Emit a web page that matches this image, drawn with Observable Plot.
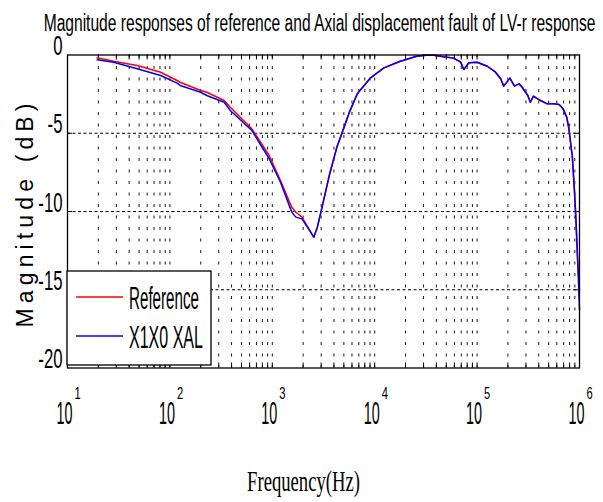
<!DOCTYPE html>
<html>
<head>
<meta charset="utf-8">
<script src="https://cdn.jsdelivr.net/npm/d3@7"></script>
<script src="https://cdn.jsdelivr.net/npm/@observablehq/plot@0.6"></script>
<style>
  html, body { margin: 0; padding: 0; background: #fff; }
  #chart { width: 603px; height: 502px; }
</style>
</head>
<body>
<div id="chart"></div>
<script>
// ---- Data ----
const freqHz = [19.5, 28.2, 47.9, 81.3, 117.5, 125.9, 199.5, 229.1, 338.8, 389.0,
  631, 933, 1202, 1549, 1698, 1950, 2541, 2754, 3020, 3631,
  4266, 4786, 5623, 6761, 9120, 12303, 17783, 25704, 31623, 38019,
  43652, 58884, 69183, 74131, 83176, 100000, 125893, 151356, 169824, 181970,
  208930, 231739, 257040, 275423, 312608, 331131, 354813, 416869, 484172, 562341,
  630957, 691831, 749894, 785236, 851138, 891251, 922571, 966051, 1000000];

const referenceDb = [-0.18, -0.40, -0.67, -1.10, -1.63, -1.74, -2.27, -2.38, -2.91, -3.34,
  -4.72, -6.42, -8.02, -9.73, -10.05, -10.36, -11.64, -11.0, -9.9, -7.6,
  -5.9, -5.0, -3.7, -2.48, -1.46, -0.82, -0.40, -0.08, -0.02, -0.02,
  -0.08, -0.20, -0.46, -0.93, -0.50, -0.46, -0.72, -1.10, -1.52, -1.99,
  -1.48, -1.99, -1.84, -2.06, -2.59, -3.02, -2.63, -2.91, -3.12, -3.12,
  -3.16, -3.44, -3.97, -4.65, -6.5, -8.6, -10.5, -13.6, -15.05];

const faultDb = [-0.31, -0.46, -0.88, -1.31, -1.80, -1.95, -2.38, -2.59, -3.02, -3.55,
  -4.82, -6.63, -8.13, -10.04, -10.36, -10.47, -11.64, -11.0, -9.9, -7.6,
  -5.9, -5.0, -3.7, -2.48, -1.46, -0.82, -0.40, -0.08, -0.02, -0.02,
  -0.08, -0.20, -0.46, -0.93, -0.50, -0.46, -0.72, -1.10, -1.52, -1.99,
  -1.48, -1.99, -1.84, -2.06, -2.59, -3.02, -2.63, -2.91, -3.12, -3.12,
  -3.16, -3.44, -3.97, -4.65, -6.5, -8.6, -10.5, -13.6, -16.3];

const seriesNames = ["Reference", "X1X0 XAL"];
const seriesColors = ["#ff0000", "#0000ff"];

const yTickValues = [0, -5, -10, -15, -20];
const yGridValues = [-5, -10, -15];
const decadeExponents = [1, 2, 3, 4, 5, 6];
const decadeBase = "10";
const minorMultipliers = [1, 2, 3, 4, 5, 6, 7, 8, 9];

const titleText = "Magnitude responses of reference and Axial displacement fault of LV-r response";
const xLabelText = "Frequency(Hz)";
const yLabelText = "Magnitude (dB)";

// ---- Derived tables ----
const rows = freqHz.map((f, i) => ({f, ref: referenceDb[i], fault: faultDb[i]}));
const allTickFreqs = [];
decadeExponents.slice(0, -1).forEach(e => minorMultipliers.forEach(m => allTickFreqs.push(m * Math.pow(10, e))));
allTickFreqs.push(Math.pow(10, decadeExponents[decadeExponents.length - 1]));
const gridFreqs = allTickFreqs.filter(f => f > 10 && f < 1e6);

const sans = "'Liberation Sans', Arial, sans-serif";
const serif = "'Liberation Serif', 'Times New Roman', serif";

const chart = Plot.plot({
  width: 603,
  height: 502,
  marginLeft: 67,
  marginRight: 24,
  marginTop: 54.5,
  marginBottom: 134.5,
  style: {background: "white", overflow: "visible"},
  x: {type: "log", domain: [10, 1e6], axis: null},
  y: {domain: [-20, 0], axis: null},
  marks: [
    // grid
    Plot.ruleX(gridFreqs, {stroke: "black", strokeWidth: 1, strokeDasharray: "3,8.5", strokeOpacity: 0.9}),
    Plot.ruleY(yGridValues, {stroke: "black", strokeWidth: 1, strokeDasharray: "3,2.5"}),
    // inward ticks
    Plot.ruleX(allTickFreqs, {y1: 0, y2: -0.32, stroke: "black"}),
    Plot.ruleX(allTickFreqs, {y1: -20, y2: -19.68, stroke: "black"}),
    Plot.ruleY(yGridValues, {x1: 10, x2: Math.pow(10, 1.05), stroke: "black"}),
    Plot.ruleY(yGridValues, {x1: Math.pow(10, 5.95), x2: 1e6, stroke: "black"}),
    // curves
    Plot.line(rows, {x: "f", y: "ref", stroke: seriesColors[0], strokeWidth: 1.5}),
    Plot.line(rows, {x: "f", y: "fault", stroke: seriesColors[1], strokeWidth: 1.5}),
    // frame
    Plot.frame({stroke: "black", strokeWidth: 1.3}),
    // y tick labels
    Plot.text(yTickValues, {y: d => d, frameAnchor: "left", text: d => String(d), textAnchor: "end",
      dx: -5, fontSize: 27, fontFamily: sans, fill: "black", ariaDescription: "ytick"}),
    // x tick labels 10^n
    Plot.text(decadeExponents, {x: e => Math.pow(10, e), frameAnchor: "bottom", text: () => decadeBase,
      lineAnchor: "bottom", dy: 55.5, dx: -3, fontSize: 32, fontFamily: sans, fill: "black", ariaDescription: "xbase"}),
    Plot.text(decadeExponents, {x: e => Math.pow(10, e), frameAnchor: "bottom", text: e => String(e),
      lineAnchor: "bottom", textAnchor: "start", dy: 30.5, dx: 7, fontSize: 16, fontFamily: sans, fill: "black", ariaDescription: "xexp"}),
    // title
    Plot.text([titleText], {frameAnchor: "top", lineAnchor: "bottom", dy: -24.5, dx: -4,
      fontSize: 23, fontFamily: sans, fill: "black", ariaDescription: "title"}),
    // x label
    Plot.text([xLabelText], {frameAnchor: "bottom", lineAnchor: "bottom", dy: 122.5, dx: -20,
      fontSize: 30, fontFamily: serif, fill: "black", ariaDescription: "xlabel"}),
    // y label (starts at the bottom of its span and reads upwards)
    Plot.text([yLabelText], {frameAnchor: "left", lineAnchor: "bottom", rotate: -90, textAnchor: "start",
      dx: -35, dy: 116, fontSize: 23, fontFamily: sans, fill: "black", ariaDescription: "ylabel"})
  ]
});

document.getElementById("chart").append(chart);

const svg = d3.select(chart);

// narrow, tall lettering of the reference: squeeze text horizontally about its anchor
function squeeze(el, sx) {
  const x = +el.getAttribute("x") || 0, y = +el.getAttribute("y") || 0;
  el.removeAttribute("x");
  el.removeAttribute("y");
  const t = el.getAttribute("transform") || "";
  el.setAttribute("transform", `${t} translate(${x},${y}) scale(${sx},1)`);
}
function fitGroup(label, targetFn) {
  svg.selectAll(`g[aria-description="${label}"] text`).each(function () {
    const natural = this.getComputedTextLength();
    squeeze(this, targetFn(natural) / natural);
  });
}
fitGroup("title", () => 552);
fitGroup("xlabel", () => 113);
fitGroup("xbase", () => 16);
fitGroup("xexp", n => n * 0.7);
fitGroup("ytick", n => n * 0.62);
// y label: spaced-out letters spanning ~224 px
svg.selectAll(`g[aria-description="ylabel"] text`).each(function () {
  const natural = this.getComputedTextLength();
  const n = yLabelText.length;
  this.style.letterSpacing = ((224 - natural) / (n - 1)) + "px";
});

// legend
const lg = svg.append("g").attr("aria-label", "legend");
lg.append("rect").attr("x", 67).attr("y", 271).attr("width", 144).attr("height", 94)
  .attr("fill", "white").attr("stroke", "black").attr("stroke-width", 1.3);
const legendRowsY = [297, 336];
const legendTextLen = [70, 74];
seriesNames.forEach((name, i) => {
  lg.append("line").attr("x1", 76).attr("x2", 123).attr("y1", legendRowsY[i]).attr("y2", legendRowsY[i])
    .attr("stroke", seriesColors[i]).attr("stroke-width", 1.5);
  const t = lg.append("text")
    .attr("text-anchor", "start")
    .attr("font-family", sans).attr("font-size", 31).attr("fill", "black")
    .text(name);
  const natural = t.node().getComputedTextLength();
  t.attr("transform", `translate(129,${legendRowsY[i] + 11.5}) scale(${legendTextLen[i] / natural},1)`);
});
</script>
</body>
</html>
